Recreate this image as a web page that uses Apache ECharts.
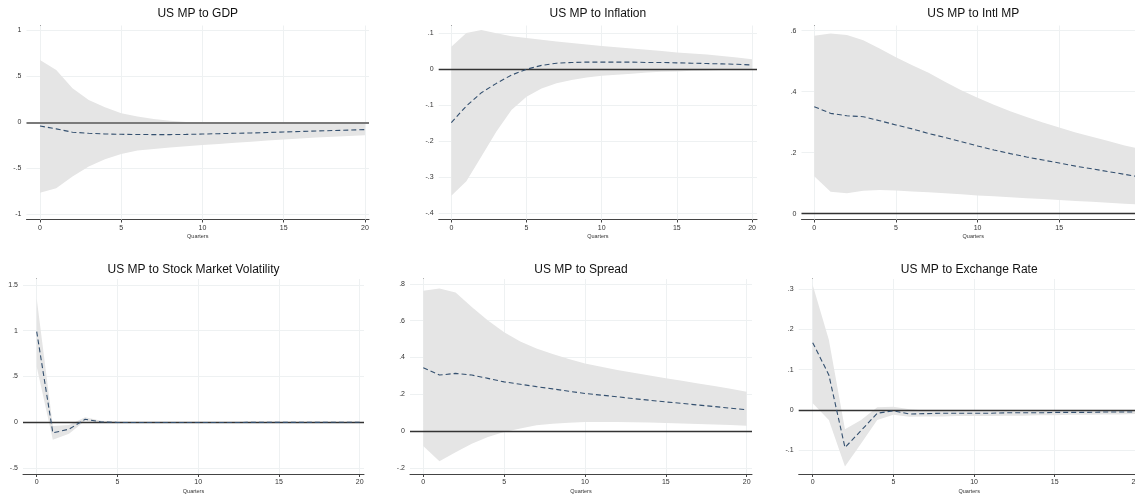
<!DOCTYPE html>
<html>
<head>
<meta charset="utf-8">
<script src="https://cdn.jsdelivr.net/npm/echarts@6/dist/echarts.min.js"></script>
<style>
html, body { margin: 0; padding: 0; background: #fff; }
#char { width: 1135px; height: 494px; }
</style>
</head>
<body>
<div id="char"></div>
<script>
// horizon (quarters) and x tick labels
var quarters = [0, 1, 2, 3, 4, 5, 6, 7, 8, 9, 10, 11, 12, 13, 14, 15, 16, 17, 18, 19, 20];
var xTicks = [0, 5, 10, 15, 20];

// US MP to GDP
var gdpMean = [-0.04, -0.072, -0.108, -0.12, -0.127, -0.131, -0.133, -0.134, -0.134, -0.132, -0.128, -0.124, -0.12, -0.116, -0.112, -0.105, -0.1, -0.095, -0.09, -0.085, -0.08];
var gdpLow = [-0.765, -0.717, -0.59, -0.482, -0.402, -0.344, -0.308, -0.29, -0.275, -0.26, -0.247, -0.235, -0.223, -0.212, -0.198, -0.186, -0.176, -0.166, -0.157, -0.149, -0.141];
var gdpHigh = [0.678, 0.569, 0.37, 0.243, 0.163, 0.098, 0.062, 0.036, 0.016, 0.004, -0.004, -0.008, -0.011, -0.013, -0.014, -0.015, -0.016, -0.017, -0.018, -0.018, -0.019];
var gdpTicks = [-1, -0.5, 0, 0.5, 1];

// US MP to Inflation
var infMean = [-0.148, -0.102, -0.065, -0.039, -0.016, 0.0, 0.011, 0.017, 0.019, 0.02, 0.02, 0.02, 0.02, 0.019, 0.019, 0.018, 0.017, 0.016, 0.015, 0.014, 0.012];
var infLow = [-0.351, -0.311, -0.242, -0.173, -0.113, -0.076, -0.053, -0.039, -0.03, -0.023, -0.018, -0.015, -0.012, -0.009, -0.007, -0.006, -0.004, -0.003, -0.002, -0.002, -0.001];
var infHigh = [0.063, 0.101, 0.109, 0.1, 0.092, 0.087, 0.082, 0.077, 0.073, 0.069, 0.065, 0.061, 0.058, 0.054, 0.051, 0.047, 0.044, 0.041, 0.037, 0.033, 0.028];
var infTicks = [-0.4, -0.3, -0.2, -0.1, 0, 0.1];

// US MP to Intl MP
var intlMean = [0.351, 0.329, 0.321, 0.318, 0.305, 0.291, 0.278, 0.263, 0.25, 0.236, 0.222, 0.209, 0.197, 0.186, 0.176, 0.166, 0.156, 0.147, 0.138, 0.129, 0.12];
var intlLow = [0.123, 0.072, 0.067, 0.075, 0.078, 0.076, 0.073, 0.07, 0.067, 0.064, 0.06, 0.057, 0.054, 0.051, 0.048, 0.045, 0.042, 0.039, 0.036, 0.033, 0.03];
var intlHigh = [0.583, 0.591, 0.586, 0.569, 0.542, 0.513, 0.487, 0.462, 0.433, 0.405, 0.38, 0.357, 0.336, 0.317, 0.299, 0.283, 0.266, 0.252, 0.238, 0.224, 0.212];
var intlTicks = [0, 0.2, 0.4, 0.6];

// US MP to Stock Market Volatility
var volMean = [0.99, -0.115, -0.075, 0.033, 0.004, -0.002, -0.002, -0.002, -0.002, -0.002, -0.002, -0.002, -0.002, -0.001, -0.001, -0.001, -0.001, -0.001, 0, 0, 0];
var volLow = [0.607, -0.19, -0.125, 0.016, -0.008, -0.008, -0.006, -0.005, -0.004, -0.004, -0.003, -0.003, -0.003, -0.002, -0.002, -0.002, -0.002, -0.002, -0.001, -0.001, -0.001];
var volHigh = [1.35, -0.04, -0.03, 0.055, 0.016, 0.005, 0.003, 0.002, 0.002, 0.001, 0.001, 0.001, 0.001, 0.001, 0.001, 0.001, 0.001, 0.001, 0.001, 0.001, 0.001];
var volTicks = [-0.5, 0, 0.5, 1, 1.5];

// US MP to Spread
var sprMean = [0.344, 0.304, 0.313, 0.304, 0.286, 0.267, 0.254, 0.241, 0.229, 0.216, 0.204, 0.195, 0.186, 0.176, 0.167, 0.158, 0.15, 0.141, 0.133, 0.124, 0.116];
var sprLow = [-0.082, -0.164, -0.115, -0.069, -0.033, -0.005, 0.013, 0.031, 0.04, 0.045, 0.049, 0.049, 0.049, 0.048, 0.046, 0.044, 0.041, 0.038, 0.035, 0.032, 0.029];
var sprHigh = [0.762, 0.775, 0.753, 0.674, 0.6, 0.537, 0.487, 0.449, 0.418, 0.391, 0.367, 0.349, 0.331, 0.316, 0.302, 0.287, 0.273, 0.258, 0.244, 0.229, 0.213];
var sprTicks = [-0.2, 0, 0.2, 0.4, 0.6, 0.8];

// US MP to Exchange Rate
var fxMean = [0.167, 0.087, -0.093, -0.051, -0.008, -0.002, -0.01, -0.009, -0.008, -0.008, -0.008, -0.008, -0.007, -0.007, -0.007, -0.006, -0.006, -0.006, -0.005, -0.005, -0.005];
var fxLow = [0.017, -0.025, -0.14, -0.083, -0.025, -0.012, -0.017, -0.016, -0.016, -0.015, -0.015, -0.015, -0.014, -0.014, -0.013, -0.013, -0.012, -0.012, -0.011, -0.011, -0.01];
var fxHigh = [0.31, 0.174, -0.048, -0.025, 0.007, 0.008, 0.002, -0.001, -0.002, -0.003, -0.003, -0.003, -0.003, -0.003, -0.002, -0.002, -0.002, -0.002, -0.002, -0.001, -0.001];
var fxTicks = [-0.1, 0, 0.1, 0.2, 0.3];

var panels = [
    {title: 'US MP to GDP', mean: gdpMean, low: gdpLow, high: gdpHigh, ticks: gdpTicks, ty: 15,
     left: 26.5, top: 25.5, width: 342.5, height: 194, xmin: -0.83, xmax: 20.25, ymin: -1.057, ymax: 1.052, zc: '#7a7a7a', zw: 2},
    {title: 'US MP to Inflation', mean: infMean, low: infLow, high: infHigh, ticks: infTicks, ty: 15,
     left: 438.7, top: 25.5, width: 318.3, height: 194, xmin: -0.84, xmax: 20.33, ymin: -0.4172, ymax: 0.1217, zc: '#333', zw: 1.3},
    {title: 'US MP to Intl MP', mean: intlMean, low: intlLow, high: intlHigh, ticks: intlTicks, ty: 15,
     left: 801.5, top: 25.5, width: 343.5, height: 194, xmin: -0.78, xmax: 20.25, ymin: -0.019, ymax: 0.617, zc: '#333', zw: 1.3},
    {title: 'US MP to Stock Market Volatility', mean: volMean, low: volLow, high: volHigh, ticks: volTicks, ty: 271,
     left: 23, top: 279, width: 341, height: 195, xmin: -0.848, xmax: 20.27, ymin: -0.564, ymax: 1.564, zc: '#333', zw: 1.3},
    {title: 'US MP to Spread', mean: sprMean, low: sprLow, high: sprHigh, ticks: sprTicks, ty: 271,
     left: 410, top: 279, width: 342, height: 195, xmin: -0.82, xmax: 20.33, ymin: -0.2336, ymax: 0.826, zc: '#333', zw: 1.3},
    {title: 'US MP to Exchange Rate', mean: fxMean, low: fxLow, high: fxHigh, ticks: fxTicks, ty: 271,
     left: 798.7, top: 279, width: 341, height: 195, xmin: -0.868, xmax: 20.27, ymin: -0.1587, ymax: 0.3248, zc: '#333', zw: 1.3}
];

var font = '"Liberation Sans", Arial, sans-serif';

function stataLabel(v) {
    var s = String(+v.toFixed(3));
    return s.replace(/^(-?)0\./, '$1.');
}

function pairs(ys) {
    return quarters.map(function (q, i) { return [q, ys[i]]; });
}

// one polygon for the whole confidence band, placed through the axis scales
function bandRenderer(low, high) {
    return function (params, api) {
        if (params.dataIndex !== 0) return;
        var pts = [];
        for (var k = 0; k < quarters.length; k++) pts.push(api.coord([quarters[k], high[k]]));
        for (var j = quarters.length - 1; j >= 0; j--) pts.push(api.coord([quarters[j], low[j]]));
        return {type: 'polygon', shape: {points: pts}, style: {fill: '#e5e5e5', stroke: null}};
    };
}

var option = {
    backgroundColor: '#fff',
    animation: false,
    title: [],
    grid: [],
    xAxis: [],
    yAxis: [],
    series: []
};

panels.forEach(function (p, i) {
    option.title.push({
        text: p.title,
        left: p.left + p.width / 2,
        top: p.ty - 7,
        textAlign: 'center',
        padding: 0,
        textStyle: {fontFamily: font, fontSize: 12, fontWeight: 'normal', color: '#111'}
    });
    option.grid.push({left: p.left, top: p.top, width: p.width, height: p.height,
                      containLabel: false, outerBoundsMode: 'none'});
    option.xAxis.push({
        type: 'value', gridIndex: i, min: p.xmin, max: p.xmax,
        name: 'Quarters', nameLocation: 'middle', nameGap: 14,
        nameTextStyle: {fontFamily: font, fontSize: 5.5, color: '#333'},
        axisLine: {onZero: false, lineStyle: {color: '#444', width: 1}},
        axisTick: {customValues: xTicks, length: 3, lineStyle: {color: '#444'}},
        axisLabel: {customValues: xTicks, margin: 5, fontFamily: font, fontSize: 7, color: '#333', formatter: stataLabel},
        splitLine: {show: false}
    });
    option.yAxis.push({
        type: 'value', gridIndex: i, min: p.ymin, max: p.ymax,
        axisLine: {show: true, lineStyle: {color: '#444', width: 1}},
        axisTick: {show: true, customValues: p.ticks, length: 3, lineStyle: {color: '#444'}},
        axisLabel: {customValues: p.ticks, margin: 5, fontFamily: font, fontSize: 7, color: '#333', formatter: stataLabel},
        splitLine: {show: false}
    });

    var gridLines = xTicks.map(function (t) { return {xAxis: t}; })
        .concat(p.ticks.map(function (t) { return {yAxis: t}; }));

    // confidence band + faint grid
    option.series.push({
        type: 'custom', xAxisIndex: i, yAxisIndex: i, silent: true, z: 2, clip: true,
        data: quarters.map(function (q, k) { return [q, p.low[k], p.high[k]]; }),
        encode: {x: 0, y: [1, 2]},
        renderItem: bandRenderer(p.low, p.high),
        markLine: {
            silent: true, symbol: 'none', z: 1, label: {show: false},
            lineStyle: {color: '#eef1f2', width: 1, type: 'solid'},
            data: gridLines
        }
    });
    // point estimate + zero line
    option.series.push({
        type: 'line', xAxisIndex: i, yAxisIndex: i, data: pairs(p.mean),
        showSymbol: false, symbol: 'none', silent: true, z: 4,
        lineStyle: {color: '#34506f', width: 1.1, type: [5, 3]},
        markLine: {
            silent: true, symbol: 'none', z: 3, label: {show: false},
            lineStyle: {color: p.zc, width: p.zw, type: 'solid'},
            data: [{yAxis: 0}]
        }
    });
});

var myChart = echarts.init(document.getElementById('char'));
myChart.setOption(option);
</script>
</body>
</html>
